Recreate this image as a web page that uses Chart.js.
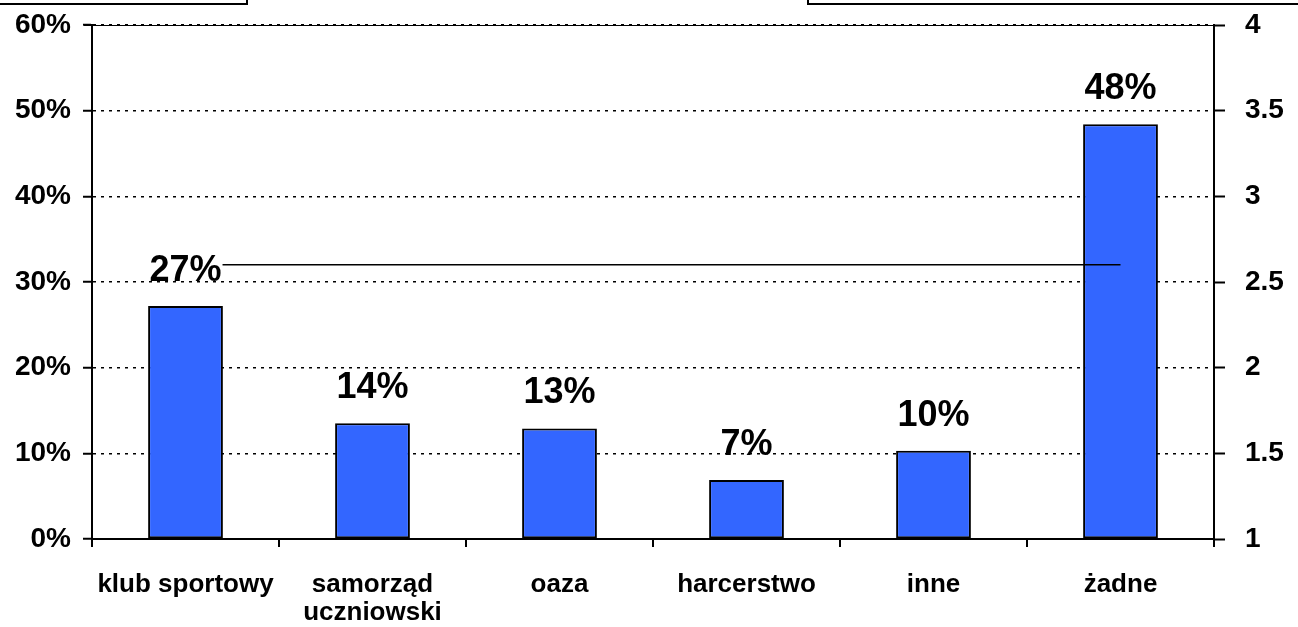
<!DOCTYPE html>
<html>
<head>
<meta charset="utf-8">
<script src="https://cdn.jsdelivr.net/npm/chart.js@4.4.0/dist/chart.umd.min.js"></script>
<style>
  html, body { margin: 0; padding: 0; background: #fff; }
  #wrap { width: 1298px; height: 627px; position: relative; }
</style>
</head>
<body>
<div id="wrap"><canvas id="chart"></canvas></div>
<script>
// data
const categories = ['klub sportowy', ['samorząd', 'uczniowski'], 'oaza', 'harcerstwo', 'inne', 'żadne'];
const shareValues = [27.2, 13.5, 12.9, 6.9, 10.3, 48.4];   // % of answers
const meanValues = [2.6, 2.6, 2.6, 2.6, 2.6, 2.6];          // right axis
const leftTicks = [0, 10, 20, 30, 40, 50, 60];
const rightTicks = [1, 1.5, 2, 2.5, 3, 3.5, 4];

const FONT = '"Liberation Sans", Arial, Helvetica, sans-serif';

// labels above bars, white box so the line goes behind them
const barLabels = {
    id: 'barLabels',
    afterDatasetsDraw(chart) {
        const ctx = chart.ctx;
        const meta = chart.getDatasetMeta(1);
        ctx.save();
        ctx.font = 'bold 36px ' + FONT;
        ctx.textAlign = 'center';
        ctx.textBaseline = 'alphabetic';
        meta.data.forEach((bar, i) => {
            const txt = Math.round(shareValues[i]) + '%';
            const w = ctx.measureText(txt).width;
            const base = bar.y - 25;
            ctx.fillStyle = '#fff';
            ctx.fillRect(bar.x - w / 2 - 1, base - 26, w + 2, 22);
            ctx.fillStyle = '#000';
            ctx.fillText(txt, bar.x, base);
        });
        ctx.restore();
    }
};

// top solid line and the two cut-off boxes at the top edge
const frame = {
    id: 'frame',
    afterDraw(chart) {
        const ctx = chart.ctx;
        const a = chart.chartArea;
        ctx.save();
        ctx.strokeStyle = '#000';
        ctx.lineWidth = 1;
        ctx.beginPath();
        ctx.moveTo(a.left - 8, a.top + 0.5);
        ctx.lineTo(a.right + 10, a.top + 0.5);
        ctx.stroke();
        ctx.lineWidth = 2;
        ctx.strokeRect(-5, -5, 252, 9);
        ctx.strokeRect(808, -5, 500, 9);
        ctx.restore();
    }
};

const noPad = s => { s.paddingTop = 0; s.paddingBottom = 0; };

new Chart(document.getElementById('chart'), {
    data: {
        labels: categories,
        datasets: [
            {
                type: 'line',
                data: meanValues,
                yAxisID: 'y1',
                borderColor: '#000',
                borderWidth: 1.5,
                pointRadius: 0,
                order: 0
            },
            {
                type: 'bar',
                data: shareValues,
                yAxisID: 'y',
                backgroundColor: '#3366ff',
                borderColor: '#000',
                borderWidth: 2,
                borderSkipped: false,
                categoryPercentage: 1,
                barPercentage: 0.4,
                order: 1
            }
        ]
    },
    options: {
        responsive: true,
        maintainAspectRatio: false,
        animation: false,
        layout: { padding: { top: 25, left: 0, right: 0, bottom: 0 } },
        plugins: {
            legend: { display: false },
            tooltip: { enabled: false }
        },
        scales: {
            x: {
                offset: true,
                afterFit: s => { s.height = 88; s.paddingLeft = 0; s.paddingRight = 0; },
                grid: {
                    offset: true,
                    drawOnChartArea: false,
                    drawTicks: true,
                    tickLength: 8,
                    color: '#000',
                    lineWidth: 2
                },
                border: { display: true, color: '#000', width: 2 },
                ticks: {
                    color: '#000',
                    font: { family: FONT, size: 26, weight: 'bold', lineHeight: 1.08 },
                    padding: 24,
                    maxRotation: 0,
                    autoSkip: false
                }
            },
            y: {
                position: 'left',
                min: 0,
                max: 60,
                afterFit: s => { s.width = 92; noPad(s); },
                afterBuildTicks: s => { s.ticks = leftTicks.map(v => ({ value: v })); },
                grid: {
                    color: '#000',
                    lineWidth: 1.5,
                    tickBorderDash: [],
                    tickLength: 9,
                    tickWidth: 2
                },
                border: { display: true, color: '#000', width: 2, dash: [3, 5] },
                ticks: {
                    color: '#000',
                    font: { family: FONT, size: 28, weight: 'bold' },
                    padding: 12,
                    callback: v => v + '%'
                }
            },
            y1: {
                position: 'right',
                min: 1,
                max: 4,
                afterFit: s => { s.width = 84; noPad(s); },
                afterBuildTicks: s => { s.ticks = rightTicks.map(v => ({ value: v })); },
                grid: {
                    drawOnChartArea: false,
                    color: '#000',
                    tickLength: 11,
                    tickWidth: 2
                },
                border: { display: true, color: '#000', width: 2 },
                ticks: {
                    color: '#000',
                    font: { family: FONT, size: 28, weight: 'bold' },
                    padding: 20,
                    callback: v => String(v)
                }
            }
        }
    },
    plugins: [barLabels, frame]
});
</script>
</body>
</html>
